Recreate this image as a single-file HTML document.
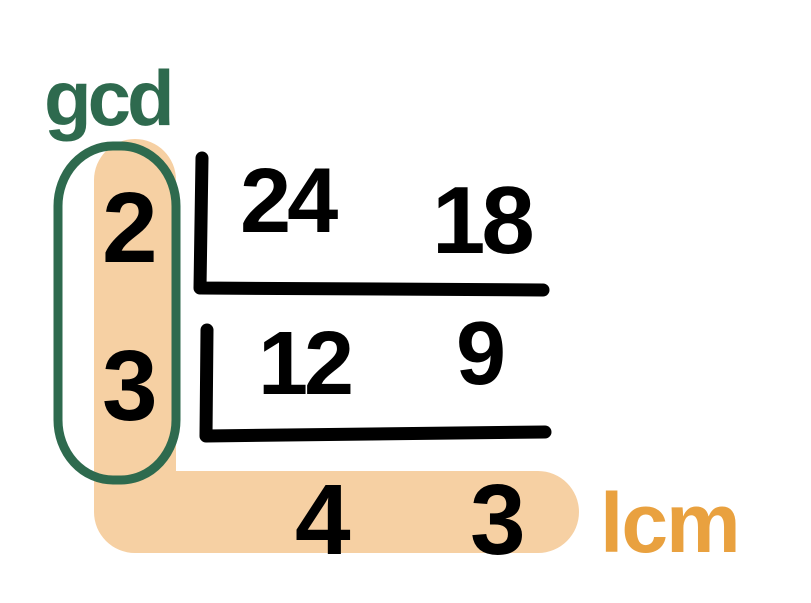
<!DOCTYPE html>
<html><head><meta charset="utf-8">
<style>
html,body{margin:0;padding:0;background:#fff;width:811px;height:603px;overflow:hidden}
text{font-family:"Liberation Sans","DejaVu Sans",sans-serif;font-weight:bold}
</style></head>
<body>
<svg width="811" height="603" viewBox="0 0 811 603">
  <!-- orange L highlight -->
  <path d="M135 180 L135 512 L538 512" fill="none" stroke="#f6d0a3" stroke-width="82" stroke-linecap="round" stroke-linejoin="round"/>
  <!-- green gcd outline -->
  <rect x="58" y="146" width="118" height="334" rx="55" ry="60" fill="none" stroke="#2e6a4e" stroke-width="9"/>
  <text x="44" y="125" font-size="78" fill="#2e6a4e" letter-spacing="-4">gcd</text>
  <!-- division lines -->
  <path d="M202 158 L200 288 L543 290" fill="none" stroke="#000" stroke-width="13" stroke-linecap="round" stroke-linejoin="round"/>
  <path d="M207 330 L206 436 L545 432" fill="none" stroke="#000" stroke-width="13" stroke-linecap="round" stroke-linejoin="round"/>
  <!-- numbers -->
  <text x="102" y="262" font-size="100" fill="#000">2</text>
  <text x="102" y="420" font-size="100" fill="#000">3</text>
  <text x="240" y="232" font-size="92" fill="#000" letter-spacing="-4">24</text>
  <text x="432" y="253" font-size="96" fill="#000" letter-spacing="-4">18</text>
  <text x="258" y="394" font-size="90" fill="#000" letter-spacing="-4">12</text>
  <text x="456" y="384" font-size="90" fill="#000">9</text>
  <text x="295" y="554" font-size="100" fill="#000">4</text>
  <text x="470" y="554" font-size="100" fill="#000">3</text>
  <text x="600" y="552" font-size="84" fill="#e9a13f" letter-spacing="-2">lcm</text>
</svg>
</body></html>
